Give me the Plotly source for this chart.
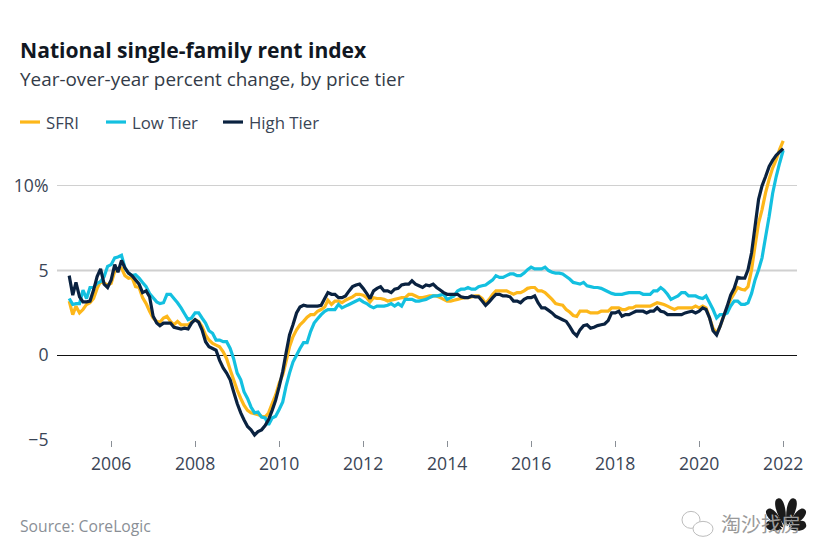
import math
import pandas as pd
import plotly.graph_objects as go

months = pd.date_range("2005-01-01", "2022-01-01", freq="MS")

sfri = [
 3.2,2.4,2.9,2.5,2.7,3.0,3.1,3.35,3.95,4.35,4.25,4.15,
 4.25,4.95,5.1,5.15,4.7,4.55,4.6,4.05,4.0,3.4,3.05,2.6,
 2.2,2.0,1.95,2.2,2.3,2.0,1.8,2.0,1.8,1.8,1.8,1.95,
 2.1,2.0,1.7,1.2,0.9,0.7,0.6,0.5,0.2,-0.2,-0.85,-1.45,
 -2.05,-2.55,-2.95,-3.25,-3.4,-3.45,-3.5,-3.6,-3.65,-3.4,-2.85,-2.35,
 -1.65,-1.15,-0.4,0.5,1.1,1.5,1.8,2.0,2.25,2.4,2.4,2.6,
 2.7,2.85,3.25,3.0,3.2,3.2,3.1,3.25,3.35,3.45,3.6,3.6,
 3.55,3.4,3.15,3.4,3.35,3.35,3.3,3.2,3.25,3.3,3.35,3.4,
 3.4,3.6,3.6,3.5,3.4,3.4,3.45,3.5,3.5,3.5,3.4,3.3,
 3.2,3.2,3.25,3.3,3.35,3.4,3.4,3.45,3.5,3.5,3.35,3.05,
 3.3,3.6,3.8,3.8,3.8,3.8,3.7,3.6,3.7,3.7,3.8,3.95,
 4.0,4.0,3.8,3.8,3.7,3.5,3.3,3.05,3.0,2.95,2.7,2.55,
 2.35,2.3,2.6,2.6,2.6,2.5,2.5,2.5,2.6,2.6,2.6,2.8,
 2.8,2.8,2.7,2.7,2.8,2.8,2.9,2.9,2.9,2.9,2.9,3.0,
 3.1,3.05,3.0,2.9,2.8,2.7,2.8,2.8,2.8,2.8,2.8,2.9,
 2.8,2.9,2.8,2.2,1.6,1.3,1.7,2.3,2.8,3.3,3.65,4.0,
 3.9,3.85,4.05,5.05,6.45,7.8,8.6,9.6,10.4,11.05,11.55,12.15,
 12.65]

low_tier = [
 3.35,3.0,3.05,3.05,3.85,3.35,4.0,4.0,4.25,4.35,4.65,5.25,
 5.35,5.75,5.8,5.9,5.15,4.85,4.7,4.75,4.55,4.3,4.05,3.65,
 3.4,3.15,3.05,3.1,3.6,3.6,3.35,3.1,2.8,2.45,2.1,2.2,
 2.5,2.5,2.2,1.9,1.45,1.3,0.9,0.9,0.8,0.8,0.4,-0.2,
 -1.05,-1.45,-2.15,-2.55,-3.05,-3.4,-3.35,-3.65,-3.7,-4.1,-3.7,-3.6,
 -3.2,-2.75,-1.85,-1.05,-0.4,0.0,0.4,0.75,0.75,1.4,1.9,2.15,
 2.4,2.6,2.7,2.7,2.7,3.0,2.8,2.9,3.0,3.1,3.2,3.3,
 3.15,3.05,2.9,2.8,2.9,2.9,2.9,2.95,3.05,2.9,3.05,2.9,
 3.3,3.3,3.3,3.2,3.2,3.25,3.3,3.4,3.5,3.5,3.55,3.6,
 3.3,3.4,3.5,3.8,3.9,3.9,4.0,3.9,3.9,4.05,4.1,4.15,
 4.3,4.45,4.7,4.6,4.6,4.7,4.8,4.8,4.7,4.7,4.85,5.05,
 5.2,5.1,5.1,5.1,5.2,5.0,4.9,4.85,4.85,4.8,4.65,4.5,
 4.3,4.25,4.2,4.3,4.1,4.05,4.0,4.0,3.95,3.85,3.75,3.65,
 3.6,3.6,3.6,3.65,3.7,3.7,3.7,3.7,3.6,3.6,3.6,3.8,
 3.8,4.0,3.85,3.6,3.3,3.4,3.5,3.7,3.7,3.5,3.5,3.5,
 3.4,3.35,3.5,3.1,2.7,2.2,2.4,2.4,2.5,2.9,3.2,3.2,
 3.0,3.0,3.1,3.65,4.45,5.05,5.75,7.0,8.2,9.55,10.55,11.35,
 12.1]

high_tier = [
 4.7,3.55,4.3,3.45,3.15,3.15,3.2,3.85,4.65,5.1,4.2,4.0,
 4.45,5.35,4.9,5.6,5.15,4.85,4.7,4.45,4.2,3.7,3.8,3.45,
 2.3,1.9,1.75,1.9,1.9,1.9,1.65,1.6,1.55,1.6,1.55,1.9,
 2.1,1.95,1.5,0.8,0.5,0.4,0.3,-0.3,-0.75,-1.05,-1.45,-2.15,
 -2.85,-3.4,-3.8,-4.2,-4.4,-4.7,-4.5,-4.4,-4.15,-3.8,-3.25,-2.65,
 -1.85,-0.95,0.1,1.2,1.8,2.5,2.85,2.95,2.9,2.9,2.9,2.9,
 2.95,3.35,3.7,3.6,3.6,3.4,3.4,3.5,3.8,4.05,4.15,4.2,
 3.95,3.65,3.35,3.8,3.95,4.05,3.8,3.8,3.7,3.9,3.95,4.15,
 4.2,4.2,4.4,4.2,4.1,4.0,4.15,4.1,4.2,4.0,3.85,3.7,
 3.6,3.6,3.6,3.6,3.45,3.4,3.4,3.5,3.45,3.45,3.2,2.95,
 3.15,3.4,3.6,3.6,3.5,3.5,3.45,3.2,3.2,3.1,3.3,3.4,
 3.4,3.5,3.1,2.8,2.8,2.65,2.5,2.3,2.2,2.1,2.0,1.7,
 1.35,1.15,1.5,1.75,1.8,1.6,1.65,1.75,1.8,1.85,2.05,2.5,
 2.5,2.6,2.3,2.4,2.4,2.5,2.6,2.6,2.6,2.5,2.6,2.6,
 2.8,2.6,2.55,2.4,2.4,2.4,2.4,2.4,2.5,2.55,2.6,2.5,
 2.6,2.8,2.7,2.2,1.45,1.2,1.7,2.3,2.9,3.55,3.95,4.6,
 4.55,4.55,5.05,6.05,7.6,9.2,10.0,10.55,11.15,11.5,11.8,12.0,
 12.2]

series_names = ["SFRI", "Low Tier", "High Tier"]
series_colors = ["#FDB71A", "#13C0E0", "#0A2240"]
y_ticks = [-5, 0, 5, 10]
y_tick_labels = ["\u22125", "0", "5", "10%"]
title_text = "National single-family rent index"
subtitle_text = "Year-over-year percent change, by price tier"
source_text = "Source: CoreLogic"
watermark_text = "\u6dd8\u6c99\u627e\u623f"

W, H = 826, 560
L, R, T, B = 57, 797, 135, 440.5
FONT = "Open Sans"
INK = "#3A4556"
TICK_SIZE = 17.6

fig = go.Figure()
for name, vals, col in zip(series_names, [sfri, low_tier, high_tier], series_colors):
    fig.add_trace(go.Scatter(x=months, y=vals, mode="lines", name=name,
                             line=dict(color=col, width=3.2, simplify=False),
                             showlegend=False))

def px(x): return (x - L) / (R - L)
def py(y): return (B - y) / (B - T)

shapes = [dict(type="line", xref="x domain", yref="y", x0=0, x1=1, y0=5, y1=5,
               line=dict(color="#D0D0D0", width=2), layer="below")]
anns = []
def text(x, y, s, size, color=INK, family=FONT, anchor="left"):
    anns.append(dict(x=px(x), y=py(y), xref="paper", yref="paper", text=s, showarrow=False,
                     xanchor=anchor, yanchor="middle", align="left", borderpad=0, borderwidth=0,
                     font=dict(family=family, size=size, color=color)))

text(20, 49, "<b>%s</b>" % title_text, 21.1, color="#111722")
text(20, 78.5, subtitle_text, 18.9, color="#333B48")
text(20, 527, source_text, 15.7, color="#8A8F96")
text(721, 524, watermark_text, 20, color="#9A9A9A", family="Noto Sans CJK SC")

for lx, tx, name, col in zip([20, 106, 223], [46, 132, 249], series_names, series_colors):
    shapes.append(dict(type="line", xref="paper", yref="paper", x0=px(lx), x1=px(lx + 20),
                       y0=py(122), y1=py(122), line=dict(color=col, width=3.2)))
    text(tx, 122.5, name, 16.8, color="#3A4556")

# chat bubbles of the watermark
for x0, y0, x1, y1 in [(682, 512, 700, 529), (693, 522, 713, 537)]:
    shapes.append(dict(type="circle", xref="paper", yref="paper",
                       x0=px(x0), x1=px(x1), y0=py(y1), y1=py(y0),
                       fillcolor="white", line=dict(color="#BDBDBD", width=1)))

# peacock mark, built from feathers
cx, cy = 786, 531
for ang, ln in zip([-72, -42, -14, 14, 42, 72], [21, 28, 33, 33, 28, 21]):
    a = math.radians(ang)
    dx, dy = math.sin(a), -math.cos(a)
    nx, ny = -dy, dx
    w = 5.8
    def P(t, s):
        return "%.4f,%.4f" % (px(cx + dx * t + nx * s), py(cy + dy * t + ny * s))
    shapes.append(dict(type="path", xref="paper", yref="paper", fillcolor="#1A1A1A",
                       line=dict(width=0),
                       path="M %s C %s %s %s C %s %s %s Z" % (
                           P(4, 0), P(ln * 0.55, -w * 1.1), P(ln * 1.02, -w), P(ln, 0),
                           P(ln * 1.02, w), P(ln * 0.55, w * 1.1), P(4, 0))))

fig.update_layout(
    width=W, height=H, autosize=False,
    margin=dict(l=L, r=W - R, t=T, b=H - B, pad=0),
    paper_bgcolor="white", plot_bgcolor="white",
    font=dict(family=FONT, size=TICK_SIZE, color=INK),
    showlegend=False, shapes=shapes, annotations=anns,
    xaxis=dict(type="date", range=["2004-09-17", "2022-05-01"], dtick="M24", tick0="2006-01-01",
               tickformat="%Y", ticks="outside", ticklen=6, tickcolor="#8A8F96", tickwidth=1,
               ticklabelstandoff=2,
               showgrid=False, zeroline=False, showline=False,
               tickfont=dict(family=FONT, size=TICK_SIZE, color=INK)),
    yaxis=dict(range=[-5, 13], tickvals=y_ticks, ticktext=y_tick_labels,
               ticks="outside", ticklen=4, tickcolor="rgba(0,0,0,0)",
               showgrid=True, gridcolor="#D0D0D0", gridwidth=1,
               zeroline=True, zerolinecolor="#111111", zerolinewidth=1, showline=False,
               tickfont=dict(family=FONT, size=TICK_SIZE, color=INK)),
)

fig.write_html("out.html", config={"displayModeBar": False},
               post_script="document.body.style.margin='0';")
